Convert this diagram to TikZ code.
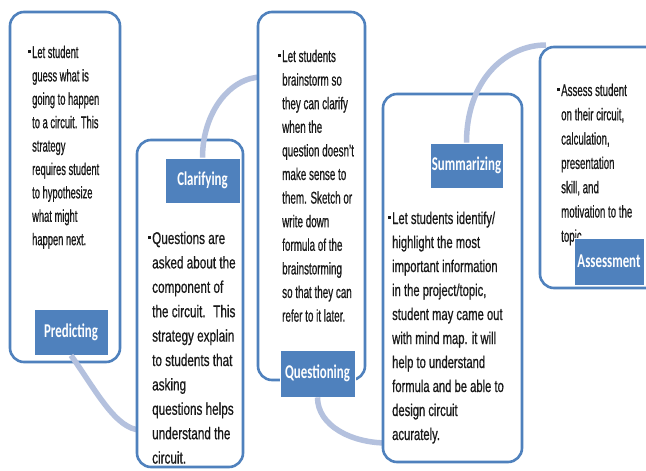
\documentclass[tikz,border=0pt]{standalone}
\usepackage{fontspec}
\setmainfont{Liberation Sans}
\newfontfamily\lab[FakeStretch=0.66]{Carlito}
\newfontfamily\fa[FakeStretch=0.55,FakeBold=0.6]{Liberation Sans}
\newfontfamily\fb[FakeStretch=0.69,FakeBold=0.6]{Liberation Sans}
\newfontfamily\fc[FakeStretch=0.58,FakeBold=0.6]{Liberation Sans}
\newfontfamily\fd[FakeStretch=0.66,FakeBold=0.6]{Liberation Sans}
\newfontfamily\fe[FakeStretch=0.57,FakeBold=0.6]{Liberation Sans}
\definecolor{boxblue}{RGB}{79,129,189}
\definecolor{lblblue}{RGB}{79,129,189}
\definecolor{connblue}{RGB}{180,193,222}
\definecolor{txtcol}{RGB}{25,25,25}
\newcommand\bul{\llap{\raisebox{5pt}{\rule{2.8pt}{2.8pt}}\hspace{1.6pt}}}
\begin{document}
\begin{tikzpicture}[x=1pt,y=-1pt,
  box/.style={draw=boxblue, line width=2.6pt, rounded corners=14pt, fill=white, inner sep=0pt},
  lbl/.style={fill=lblblue, draw=white, line width=0.8pt, text=white, font=\lab\bfseries\fontsize{19.5}{22}\selectfont, inner sep=0pt},
  conn/.style={draw=connblue, line width=5.5pt},
  txt/.style={anchor=base west, inner sep=0pt, text=txtcol}]
\fill[white] (0,0) rectangle (646,471);
\useasboundingbox (0,0) rectangle (646,471);

% Box 1 - Predicting
\node[box, minimum width=110, minimum height=350] (b1) at (65,187) {};
\node[txt, font=\fa\fontsize{17}{23.4}\selectfont] (t1) at (32,58) {\begin{tabular}[t]{@{}l@{}}\bul Let student\\ guess what is\\ going to happen\\ to a circuit. This\\ strategy\\ requires student\\ to hypothesize\\ what might\\ happen next.\end{tabular}};
\node[lbl, minimum width=74, minimum height=46] (pred) at (71,332) {Predicting};
\coordinate (e1) at (141,430);
\draw[conn] (pred.south) .. controls +(25,35) and +(-25,0) .. (e1);

% Box 2 - Clarifying
\node[box, minimum width=106, minimum height=327] (b2) at (190,303.5) {};
\node[txt, font=\fb\fontsize{17}{24.4}\selectfont] (t2) at (152,244) {\begin{tabular}[t]{@{}l@{}}\bul Questions are\\ asked about the\\ component of\\ the circuit.~ This\\ strategy explain\\ to students that\\ asking\\ questions helps\\ understand the\\ circuit.\end{tabular}};
\node[lbl, minimum width=75, minimum height=45] (clar) at (202.5,180.5) {Clarifying};
\coordinate (e2) at (262,77);
\draw[conn] (clar.north) .. controls +(0,-45) and +(-32,0) .. (e2);

% Box 3 - Questioning
\node[box, minimum width=107, minimum height=368] (b3) at (311.5,196) {};
\node[txt, font=\fc\fontsize{17}{23.6}\selectfont] (t3) at (282,62) {\begin{tabular}[t]{@{}l@{}}\bul Let students\\ brainstorm so\\ they can clarify\\ when the\\ question doesn’t\\ make sense to\\ them. Sketch or\\ write down\\ formula of the\\ brainstorming\\ so that they can\\ refer to it later.\end{tabular}};
\node[lbl, minimum width=75, minimum height=47] (ques) at (317.5,373.5) {Questioning};
\coordinate (e3) at (387,443);
\draw[conn] (ques.south) .. controls +(0,28) and +(-36,0) .. (e3);

% Box 4 - Summarizing
\node[box, minimum width=139, minimum height=368] (b4) at (452.5,278) {};
\node[txt, font=\fd\fontsize{17}{24}\selectfont] (t4) at (392,224) {\begin{tabular}[t]{@{}l@{}}\bul Let students identify/\\ highlight the most\\ important information\\ in the project/topic,\\ student may came out\\ with mind map. it will\\ help to understand\\ formula and be able to\\ design circuit\\ acurately.\end{tabular}};
\node[lbl, minimum width=73, minimum height=45] (summ) at (466.5,165.5) {Summarizing};
\coordinate (e4) at (546,45);
\draw[conn] (summ.north) .. controls +(0,-63) and +(-40,0) .. (e4);

% Box 5 - Assessment
\node[box, minimum width=120, minimum height=241] (b5) at (600,167.5) {};
\node[txt, font=\fe\fontsize{17}{24.3}\selectfont] (t5) at (561,96) {\begin{tabular}[t]{@{}l@{}}\bul Assess student\\ on their circuit,\\ calculation,\\ presentation\\ skill, and\\ motivation to the\\ topic.\end{tabular}};
\node[lbl, minimum width=70, minimum height=47] (asse) at (609,261.5) {Assessment};
\end{tikzpicture}
\end{document}
